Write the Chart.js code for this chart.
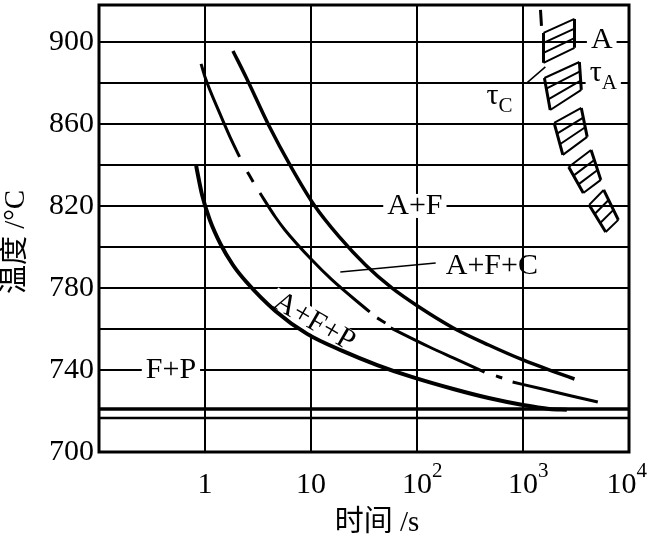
<!DOCTYPE html>
<html>
<head>
<meta charset="utf-8">
<script src="https://cdn.jsdelivr.net/npm/chart.js@4.4.1/dist/chart.umd.min.js"></script>
<style>
  html, body { margin: 0; padding: 0; background: #fff; }
  #wrap { width: 649px; height: 540px; position: relative; }
</style>
</head>
<body>
<div id="wrap"><canvas id="CCTCHART"></canvas></div>
<script>
// time axis (s, log) and temperature axis (°C)
const xDecades = [0.1, 1, 10, 100, 1000, 10000];
const xTickBase = ['', '1', '10', '10', '10', '10'];
const xTickExp = ['', '', '', '2', '3', '4'];
const yGrid = [700, 740, 760, 780, 800, 820, 840, 860, 880, 900];
const yLabels = [700, 740, 780, 820, 860, 900];

// lower boundary (A+F+P -> F+P), thick curve
const psTime = [0.825, 0.938, 1.11, 1.398, 1.835, 2.46, 4.61, 9.19, 19.8, 42.1, 89.2, 220, 474, 1000, 1770, 2590];
const psTemp = [839.5, 825.4, 813.2, 801.5, 791.2, 782.9, 768.8, 757.6, 749.3, 742.4, 736.6, 730.7, 726.3, 722.9, 721.0, 720.6];

// middle curve, broken (null = gap)
const midTime = [0.918, 1.0, 1.398, 1.72, 2.12, 2.3, 2.51, 2.85, 3.1, 3.30, 4.61, 5.68, 10, 15.8, 35.8, 39, 42.1, 50.4, 53, 56.5, 131, 220, 434, 500, 556, 637, 720, 798, 1524, 2874, 5080];
const midTemp = [889.3, 882.9, 864.4, 853.7, 843.9, null, 836.6, 831.7, null, 826.3, 814.6, 808.3, 794.1, 783.9, 768.3, null, 765.4, 762.9, null, 760.5, 751.2, 745.9, 739.0, null, 737.1, 736.1, null, 734.1, 730.7, 727.3, 724.4];

// upper curve (A+F boundary)
const upTime = [1.835, 2.46, 3.98, 6.58, 10.7, 18.5, 32.7, 57.9, 104.6, 220, 474, 1000, 2010, 3060];
const upTemp = [895.6, 882.4, 859.5, 838.5, 820.5, 804.9, 791.2, 780.0, 770.7, 760.5, 752.2, 744.9, 739.0, 735.6];

// A1 lines
const a1Time = [0.1, 10000];
const a1Upper = [721, 721];
const a1Lower = [716.6, 716.6];

// leader lines
const afcLeaderTime = [18.9, 150];
const afcLeaderTemp = [787.8, 792.2];
const tcLeaderTime = [1088, 1626];
const tcLeaderTemp = [880, 887.8];

// hatched band (tau_A): blocks as [time, temp] corners
const bandLeftTop = [[1561, 904.4], [1592, 882.4], [1966, 860.5], [2698, 839.0], [4210, 820.5]];
const bandLeftBot = [[1561, 889.8], [1806, 866.8], [2376, 844.9], [3706, 826.3], [6030, 807.3]];
const bandRightTop = [[3060, 911.2], [3404, 890.2], [3548, 867.8], [4385, 847.3], [5770, 827.8]];
const bandRightBot = [[3060, 897.1], [3548, 876.6], [4032, 853.7], [5420, 832.7], [7930, 813.2]];
const bandHatches = 4;
const bandTickTime = [1462, 1494];
const bandTickTemp = [915.6, 907.8];

// text notes
const noteText = ['A', 'τ', 'τ', 'A+F', 'A+F+C', 'A+F+P', 'F+P'];
const noteSub = ['', 'A', 'C', '', '', '', ''];
const noteTime = [5530, 5715, 601, 95.5, 508, 10.7, 0.477];
const noteTemp = [901, 884.9, 873.7, 820, 790.7, 763.4, 740];
const noteAngle = [0, 0, 0, 0, 0, 30, 0];
const noteBg = [true, true, false, true, false, true, true];

const xTitle = '时间 /s';
const yTitle = '温度 /°C';

const SERIF = '"Liberation Serif", "Noto Sans CJK SC", serif';

const pts = (xs, ys) => xs.map((x, i) => ({x: x, y: ys[i]}));

function lerpPt(a, b, f) {
  const lx = Math.log10(a[0]) + f * (Math.log10(b[0]) - Math.log10(a[0]));
  return {x: Math.pow(10, lx), y: a[1] + f * (b[1] - a[1])};
}

const bandEdges = [];
const bandLines = [];
for (let i = 0; i < bandLeftTop.length; i++) {
  const lt = bandLeftTop[i], lb = bandLeftBot[i], rt = bandRightTop[i], rb = bandRightBot[i];
  bandEdges.push({x: lt[0], y: lt[1]}, {x: lb[0], y: lb[1]}, {x: lb[0], y: null});
  bandEdges.push({x: rt[0], y: rt[1]}, {x: rb[0], y: rb[1]}, {x: rb[0], y: null});
  for (let k = 0; k < bandHatches; k++) {
    const f = k / (bandHatches - 1);
    const l = lerpPt(lt, lb, f), r = lerpPt(rt, rb, f);
    bandLines.push(l, r, {x: r.x, y: null});
  }
}
bandEdges.push({x: bandTickTime[0], y: bandTickTemp[0]}, {x: bandTickTime[1], y: bandTickTemp[1]});

function line(data, width, smooth) {
  return {
    data: data,
    borderColor: '#000',
    borderWidth: width,
    pointRadius: 0,
    tension: smooth ? 0.4 : 0,
    cubicInterpolationMode: smooth ? 'monotone' : 'default',
    spanGaps: false,
    fill: false
  };
}

const datasets = [
  line(pts(psTime, psTemp), 4, true),
  line(pts(midTime, midTemp), 3, true),
  line(pts(upTime, upTemp), 3.5, true),
  line(pts(a1Time, a1Upper), 3.5, false),
  line(pts(a1Time, a1Lower), 2.5, false),
  line(pts(afcLeaderTime, afcLeaderTemp), 1.5, false),
  line(pts(tcLeaderTime, tcLeaderTemp), 1.5, false),
  line(bandEdges, 3, false),
  line(bandLines, 2, false)
];

function noteFont(size) { return size + 'px ' + SERIF; }

function noteMetrics(c, i) {
  c.font = noteFont(30);
  const w1 = c.measureText(noteText[i]).width;
  c.font = noteFont(21);
  const w2 = noteSub[i] ? c.measureText(noteSub[i]).width : 0;
  return {w1: w1, w2: w2, w: w1 + w2};
}

const notesPlugin = {
  id: 'notes',
  beforeDatasetsDraw(chart) {
    const c = chart.ctx, xs = chart.scales.x, ys = chart.scales.y;
    c.save();
    c.fillStyle = '#fff';
    noteText.forEach((t, i) => {
      if (!noteBg[i]) return;
      const m = noteMetrics(c, i);
      const px = xs.getPixelForValue(noteTime[i]);
      const py = ys.getPixelForValue(noteTemp[i]);
      c.save();
      c.translate(px, py);
      c.rotate(noteAngle[i] * Math.PI / 180);
      c.fillRect(-m.w / 2 - 4, -12, m.w + 8, 24);
      c.restore();
    });
    c.restore();
  },
  afterDatasetsDraw(chart) {
    const c = chart.ctx, xs = chart.scales.x, ys = chart.scales.y;
    c.save();
    c.fillStyle = '#000';
    c.textBaseline = 'middle';
    c.textAlign = 'left';
    noteText.forEach((t, i) => {
      const m = noteMetrics(c, i);
      const px = xs.getPixelForValue(noteTime[i]);
      const py = ys.getPixelForValue(noteTemp[i]);
      c.save();
      c.translate(px, py);
      c.rotate(noteAngle[i] * Math.PI / 180);
      c.font = noteFont(30);
      c.fillText(t, -m.w / 2, 0);
      if (noteSub[i]) {
        c.font = noteFont(21);
        c.fillText(noteSub[i], -m.w / 2 + m.w1, 11);
      }
      c.restore();
    });
    c.restore();
  }
};

const framePlugin = {
  id: 'frame',
  afterDraw(chart) {
    const c = chart.ctx, a = chart.chartArea;
    c.save();
    c.strokeStyle = '#000';
    c.lineWidth = 3;
    c.strokeRect(a.left, a.top, a.right - a.left, a.bottom - a.top);

    // x tick labels with exponents
    const xs = chart.scales.x;
    c.fillStyle = '#000';
    c.textBaseline = 'alphabetic';
    c.textAlign = 'left';
    xDecades.forEach((v, i) => {
      if (!xTickBase[i]) return;
      c.font = '30px ' + SERIF;
      const bw = c.measureText(xTickBase[i]).width;
      c.font = '21px ' + SERIF;
      const ew = xTickExp[i] ? c.measureText(xTickExp[i]).width : 0;
      let left = xs.getPixelForValue(v) - bw / 2;
      if (left + bw + ew > 647) left = 647 - bw - ew;
      c.font = '30px ' + SERIF;
      c.fillText(xTickBase[i], left, 493);
      if (xTickExp[i]) {
        c.font = '21px ' + SERIF;
        c.fillText(xTickExp[i], left + bw, 477);
      }
    });

    // axis titles
    c.font = '29px ' + SERIF;
    c.textAlign = 'center';
    c.textBaseline = 'middle';
    c.fillText(xTitle, 377, 523);
    c.save();
    c.translate(16, 242);
    c.rotate(-Math.PI / 2);
    c.fillText(yTitle, 0, 0);
    c.restore();
    c.restore();
  }
};

const ctx = document.getElementById('CCTCHART');

const cct_chart = new Chart(ctx, {
  type: 'line',
  data: { datasets: datasets },
  options: {
    responsive: true,
    maintainAspectRatio: false,
    animation: false,
    layout: { padding: { top: 5, right: 20, left: 0, bottom: 0 } },
    plugins: {
      legend: { display: false },
      tooltip: { enabled: false }
    },
    scales: {
      x: {
        type: 'logarithmic',
        min: 0.1,
        max: 10000,
        afterBuildTicks: s => { s.ticks = xDecades.map(v => ({value: v})); },
        afterFit: s => { s.height = 88; s.paddingLeft = 0; s.paddingRight = 0; },
        ticks: { display: false },
        grid: { color: '#000', lineWidth: 2, drawTicks: false },
        border: { display: false }
      },
      y: {
        type: 'linear',
        min: 700,
        max: 918,
        afterBuildTicks: s => { s.ticks = yGrid.map(v => ({value: v})); },
        afterFit: s => { s.width = 99; s.paddingTop = 0; s.paddingBottom = 0; },
        ticks: {
          autoSkip: false,
          color: '#000',
          padding: 5,
          font: { family: SERIF, size: 30 },
          callback: v => yLabels.includes(v) ? String(v) : ''
        },
        grid: { color: '#000', lineWidth: 2, drawTicks: false },
        border: { display: false }
      }
    }
  },
  plugins: [notesPlugin, framePlugin]
});
</script>
</body>
</html>
